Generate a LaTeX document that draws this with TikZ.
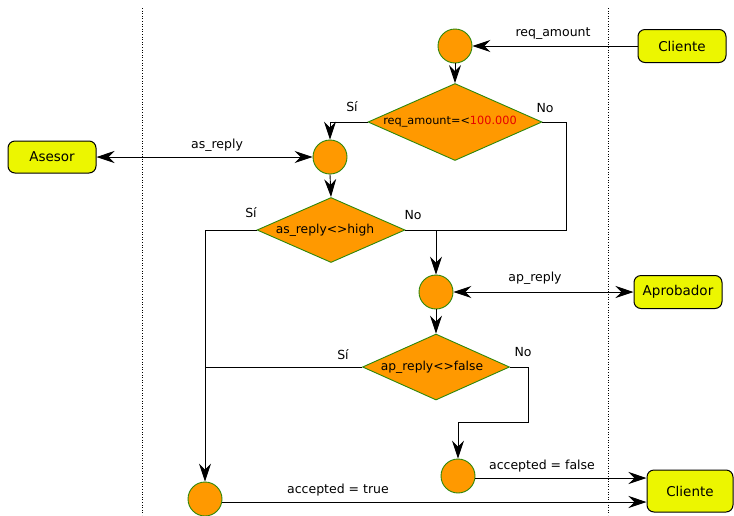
\documentclass[tikz,border=0pt]{standalone}
\usepackage{fontspec}
\setmainfont{DejaVu Sans}
\usetikzlibrary{shapes.geometric,arrows.meta,calc}
\definecolor{orF}{RGB}{255,153,0}
\definecolor{grB}{RGB}{45,135,10}
\definecolor{yeF}{RGB}{236,246,0}
\definecolor{redT}{RGB}{230,0,0}
\tikzset{
  circ/.style={circle,fill=orF,draw=grB,line width=0.9pt,minimum size=34pt,inner sep=0pt},
  dec/.style={diamond,aspect=2.26,fill=orF,draw=grB,line width=0.9pt,inner sep=0pt,font=\fontsize{12.3}{14}\selectfont},
  actor/.style={rounded corners=7pt,fill=yeF,draw=black,line width=1pt,minimum width=88pt,minimum height=33pt,inner sep=0pt,font=\fontsize{13.5}{15}\selectfont},
  lbl/.style={font=\fontsize{12.5}{14}\selectfont,inner sep=0pt},
  conn/.style={line width=0.9pt,draw=black},
  tipA/.tip={Stealth[length=18pt,width=12pt,inset=6pt,black]},
  arr/.style={conn,-tipA},
  darr/.style={conn,tipA-tipA},
  lane/.style={dotted,line width=0.6pt,black}
}
\begin{document}
\begin{tikzpicture}[x=1pt,y=-1pt]
\useasboundingbox (0,0) rectangle (734,515);
% lanes
\coordinate (l1t) at (142,8); \coordinate (l1b) at (142,515);
\coordinate (l2t) at (608,8); \coordinate (l2b) at (608,515);
\draw[lane] (l1t) -- (l1b);
\draw[lane] (l2t) -- (l2b);
% nodes
\node[circ] (c1) at (455,46) {};
\node[actor] (cl1) at (682,46) {Cliente};
\node[dec,minimum width=174pt,minimum height=77pt] (d1) at (455,122) {\fontsize{11.3}{13}\selectfont req\_amount=<\textcolor{redT}{100.000}\hspace*{10pt}};
\node[circ] (c2) at (330,157) {};
\node[actor,minimum height=32pt] (as) at (52,157) {Asesor};
\node[dec,minimum width=148pt,minimum height=65pt] (d2) at (331,230) {as\_reply<>high\hspace*{12pt}};
\node[circ] (c3) at (436,292) {};
\node[actor] (ap) at (678,292) {Aprobador};
\node[dec,minimum width=147pt,minimum height=66pt] (d3) at (436,367) {ap\_reply<>false\hspace*{8pt}};
\node[circ] (c4) at (458,476) {};
\node[circ] (c5) at (205,499) {};
\node[actor,minimum width=86pt,minimum height=42pt] (cl2) at (690,491) {Cliente};
% bend points
\coordinate (r1) at (566,230);
\coordinate (m) at (436,230);
\coordinate (j) at (205,367);
\coordinate (r3) at (528,422);
% connectors
\draw[arr] (cl1.west) -- (c1.east);
\draw[arr] (c1.south) -- (d1.north);
\draw[arr] (d1.west) -| (c2.north);
\draw[conn] (d1.east) -| (r1) -- (m);
\draw[conn] (d2.east) -- (m);
\draw[arr] (m) -- (c3.north);
\draw[darr] (as.east) -- (c2.west);
\draw[arr] (c2.south) -- (d2.north);
\draw[arr] (d2.west) -| (c5.north);
\draw[conn] (d3.west) -- (j);
\draw[darr] (c3.east) -- (ap.west);
\draw[arr] (c3.south) -- (d3.north);
\draw[arr] (d3.east) -| (r3) -| (c4.north);
\draw[arr] ($(c4.east)+(0,2)$) -- ($(cl2.west |- c4.east)+(0,2)$);
\draw[arr] ($(c5.east)+(0,3)$) -- ($(cl2.west |- c5.east)+(0,3)$);
% labels
\node[lbl] (t1) at (553,34) {req\_amount};
\node[lbl] (t2) at (217,145) {as\_reply};
\node[lbl] (t3) at (535,278) {ap\_reply};
\node[lbl] (t4) at (542,466) {accepted = false};
\node[lbl] (t5) at (338,490) {accepted = true};
\node[lbl] (s1) at (352,107) {Sí};
\node[lbl] (n1) at (545,108) {No};
\node[lbl] (s2) at (251,213) {Sí};
\node[lbl] (n2) at (413,215) {No};
\node[lbl] (s3) at (343,355) {Sí};
\node[lbl] (n3) at (523,352) {No};
\end{tikzpicture}
\end{document}
